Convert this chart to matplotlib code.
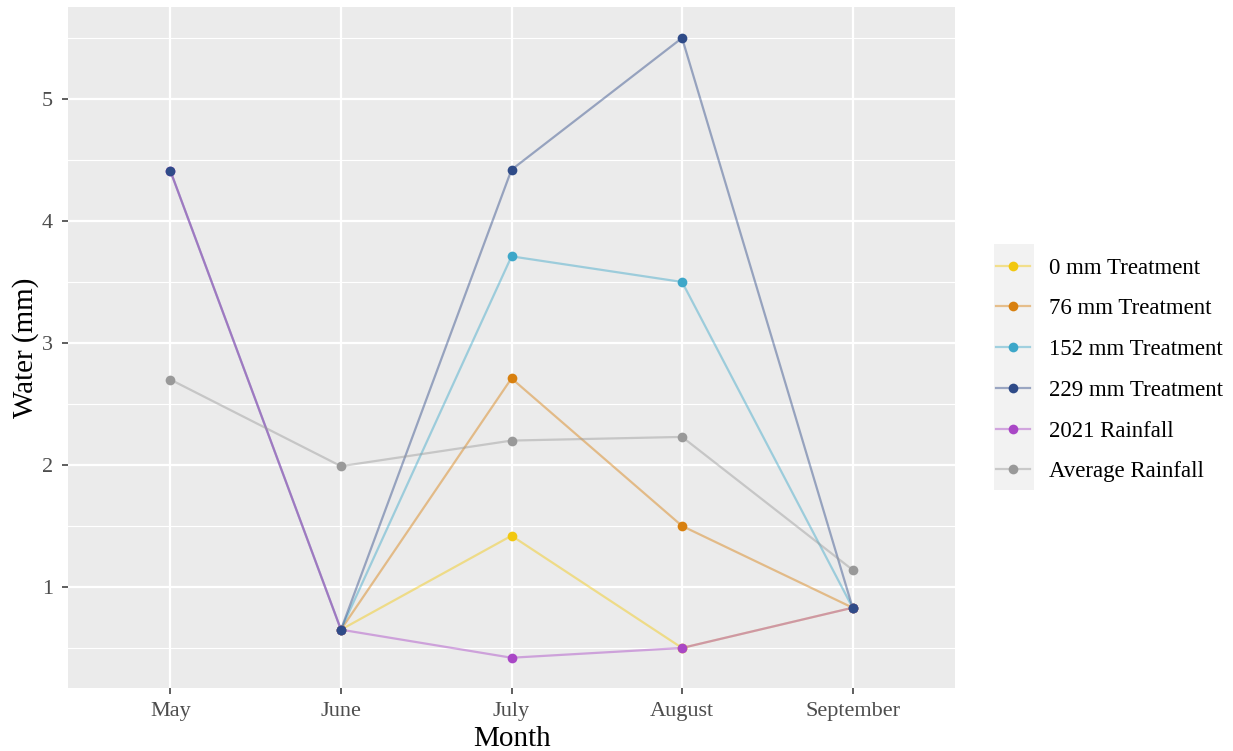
import matplotlib
matplotlib.use('Agg')
import matplotlib.pyplot as plt
import numpy as np
from matplotlib.lines import Line2D
from matplotlib.patches import Rectangle

months = ['May', 'June', 'July', 'August', 'September']
series = ['0 mm Treatment', '76 mm Treatment', '152 mm Treatment',
          '229 mm Treatment', '2021 Rainfall', 'Average Rainfall']
nan = np.nan
t0 = [nan, 0.65, 1.42, 0.50, 0.83]
t76 = [nan, 0.65, 2.71, 1.50, 0.83]
t152 = [nan, 0.65, 3.71, 3.50, 0.83]
t229 = [4.41, 0.65, 4.42, 5.50, 0.83]
rain2021 = [4.41, 0.65, 0.42, 0.50, 0.83]
avg_rain = [2.70, 1.99, 2.20, 2.23, 1.14]
values = [t0, t76, t152, t229, rain2021, avg_rain]
colors = ['#F2C80F', '#D8800F', '#3DA7C9', '#2F4B88', '#A947C6', '#999999']

plt.rcParams['font.family'] = ['Liberation Serif', 'DejaVu Serif']
fig = plt.figure(figsize=(12.33, 7.51), dpi=100)
ax = fig.add_axes([0.0552, 0.0839, 0.7193, 0.9068])
ax.set_facecolor('#EBEBEB')
for s in ax.spines.values():
    s.set_visible(False)

x = np.arange(1, len(months) + 1)
for vals, c in zip(values, colors):
    ax.plot(x, vals, color=c, alpha=0.45, lw=1.6, zorder=2)
# points, 229 on top
order = [0, 1, 2, 4, 5, 3]
for i in order:
    ax.plot(x, values[i], 'o', color=colors[i], ms=7, zorder=3, mec='none')

ax.set_xlim(0.4, 5.6)
ax.set_ylim(0.172, 5.754)
ax.set_xticks(x)
ax.set_xticklabels(months)
ax.set_yticks([1, 2, 3, 4, 5])
ax.set_yticks(np.arange(0.5, 5.75, 1.0), minor=True)
ax.grid(which='major', color='white', lw=1.6, zorder=0)
ax.grid(which='minor', axis='y', color='white', lw=0.8, zorder=0)
ax.set_axisbelow(True)
ax.tick_params(which='major', length=4, width=1.1, color='#333333',
               labelcolor='#4D4D4D', labelsize=16)
ax.tick_params(axis='x', pad=6)
ax.tick_params(axis='y', pad=7)
ax.tick_params(which='minor', length=0)
ax.set_xlabel('Month', fontsize=21, labelpad=4)
ax.set_ylabel('Water (mm)', fontsize=21, labelpad=2)

# legend: grey key boxes only, white behind text
fig.patches.append(Rectangle((994 / 1233, 1 - 490 / 751), 40 / 1233, 246 / 751,
                             transform=fig.transFigure, facecolor='#F2F2F2',
                             edgecolor='none', zorder=0))
handles = []
for c in colors:
    h = Line2D([0], [0], color=matplotlib.colors.to_rgba(c, 0.45), lw=1.6,
               marker='o', ms=7, markerfacecolor=c, markeredgecolor='none')
    handles.append(h)
leg = fig.legend(handles, series, loc='center left',
                 bbox_to_anchor=(996 / 1233, 1 - 370 / 751), frameon=False,
                 fontsize=16.5, handlelength=1.5, handletextpad=0.83,
                 labelspacing=0.86, borderpad=0, borderaxespad=0)

fig.savefig('out.png', dpi=100)
